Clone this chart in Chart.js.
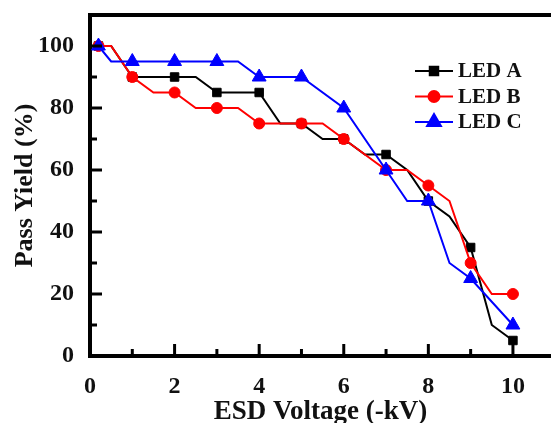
<!DOCTYPE html>
<html>
<head>
<meta charset="utf-8">
<script src="https://cdn.jsdelivr.net/npm/chart.js@4/dist/chart.umd.min.js"></script>
<style>
    html, body { margin: 0; padding: 0; background: #fff; }
    #wrap { width: 551px; height: 423px; position: relative; }
</style>
</head>
<body>
<div id="wrap"><canvas id="yieldChart"></canvas></div>
<script>
// Datos
const seriesNames = ['LED A', 'LED B', 'LED C'];

const xLedA = [0.2, 0.5, 1, 2, 2.5, 3, 4, 4.5, 5, 5.5, 6, 6.5, 7, 7.5, 8, 8.5, 9, 9.5, 10];
const yLedA = [100, 100, 90, 90, 90, 85, 85, 75, 75, 70, 70, 65, 65, 60, 50, 45, 35, 10, 5];

const xLedB = [0.2, 0.5, 1, 1.5, 2, 2.5, 3, 3.5, 4, 5, 5.5, 6, 7, 7.5, 8, 8.5, 9, 9.5, 10];
const yLedB = [100, 100, 90, 85, 85, 80, 80, 80, 75, 75, 75, 70, 60, 60, 55, 50, 30, 20, 20];

const xLedC = [0.2, 0.5, 1, 2, 3, 3.5, 4, 5, 6, 7, 7.5, 8, 8.5, 9, 10];
const yLedC = [100, 95, 95, 95, 95, 95, 90, 90, 80, 60, 50, 50, 30, 25, 10];

const xTicks = [0, 2, 4, 6, 8, 10];
const yTicks = [0, 20, 40, 60, 80, 100];

const fuente = "'Liberation Serif', 'Times New Roman', serif";

function puntos(xs, ys) {
    return xs.map((x, i) => ({ x: x, y: ys[i] }));
}

// solo se marcan el primer punto y los valores enteros
function radioMarcador(r) {
    return ctx => {
        const p = ctx.raw;
        if (!p) return 0;
        return (ctx.dataIndex === 0 || Number.isInteger(p.x)) ? r : 0;
    };
}

function serie(nombre, xs, ys, color, estilo, r, orden) {
    return {
        label: nombre,
        data: puntos(xs, ys),
        borderColor: color,
        backgroundColor: color,
        borderWidth: 2,
        tension: 0,
        fill: false,
        pointStyle: estilo,
        pointRadius: radioMarcador(r),
        pointHoverRadius: radioMarcador(r),
        pointBorderWidth: 1,
        order: orden
    };
}

// marco superior, marcas de escala hacia dentro y leyenda
const extras = {
    id: 'extras',
    afterDraw(chart) {
        const ctx = chart.ctx;
        const area = chart.chartArea;
        const sx = chart.scales.x;
        const sy = chart.scales.y;
        ctx.save();
        ctx.strokeStyle = '#000';
        ctx.lineWidth = 4;
        ctx.beginPath();
        ctx.moveTo(area.left - 2, area.top);
        ctx.lineTo(area.right, area.top);
        ctx.stroke();

        ctx.lineWidth = 3;
        for (let v = 1; v <= 10; v++) {
            const px = sx.getPixelForValue(v);
            const largo = v % 2 === 0 ? 12 : 7;
            ctx.beginPath();
            ctx.moveTo(px, area.bottom);
            ctx.lineTo(px, area.bottom - largo);
            ctx.stroke();
        }
        for (let v = 10; v <= 100; v += 10) {
            const py = sy.getPixelForValue(v);
            const largo = v % 20 === 0 ? 12 : 7;
            ctx.beginPath();
            ctx.moveTo(area.left, py);
            ctx.lineTo(area.left + largo, py);
            ctx.stroke();
        }

        // leyenda
        const x0 = area.right - 136;
        let y0 = area.top + 56;
        ctx.font = "bold 21px " + fuente;
        ctx.textBaseline = 'middle';
        ctx.textAlign = 'left';
        chart.data.datasets.forEach(ds => {
            ctx.strokeStyle = ds.borderColor;
            ctx.lineWidth = 2;
            ctx.beginPath();
            ctx.moveTo(x0, y0);
            ctx.lineTo(x0 + 38, y0);
            ctx.stroke();
            ctx.fillStyle = ds.backgroundColor;
            const r = ds.pointStyle === 'rect' ? 6 : (ds.pointStyle === 'triangle' ? 8 : 5.5);
            Chart.helpers.drawPoint(ctx, {
                pointStyle: ds.pointStyle, radius: r, rotation: 0, borderWidth: 1
            }, x0 + 19, y0);
            ctx.fillStyle = '#111';
            ctx.fillText(ds.label, x0 + 43, y0 + 1);
            y0 += 25.5;
        });
        ctx.restore();
    }
};

document.addEventListener("DOMContentLoaded", function () {
    const ctx = document.getElementById('yieldChart').getContext('2d');
    new Chart(ctx, {
        type: 'line',
        data: {
            datasets: [
                serie(seriesNames[0], xLedA, yLedA, '#000000', 'rect', 6, 3),
                serie(seriesNames[1], xLedB, yLedB, '#ff0000', 'circle', 5.5, 2),
                serie(seriesNames[2], xLedC, yLedC, '#0000ff', 'triangle', 8, 1)
            ]
        },
        options: {
            responsive: true,
            maintainAspectRatio: false,
            animation: false,
            layout: {
                autoPadding: false,
                padding: { top: 15, right: 0, left: 0, bottom: 0 }
            },
            plugins: {
                legend: { display: false },
                tooltip: { enabled: false }
            },
            scales: {
                x: {
                    type: 'linear',
                    min: 0,
                    max: 10.9,
                    afterFit: s => {
                        s.height = 67;
                        s.paddingLeft = 0;
                        s.paddingRight = 0;
                    },
                    afterBuildTicks: s => { s.ticks = xTicks.map(v => ({ value: v })); },
                    grid: { display: false },
                    border: { display: true, color: '#000', width: 4 },
                    ticks: {
                        color: '#111',
                        padding: 8,
                        maxRotation: 0,
                        font: { family: fuente, size: 24, weight: 'bold' }
                    },
                    title: {
                        display: true,
                        text: 'ESD Voltage (-kV)',
                        color: '#111',
                        padding: { top: 0, bottom: -5 },
                        font: { family: fuente, size: 27, weight: 'bold' }
                    }
                },
                y: {
                    type: 'linear',
                    min: 0,
                    max: 110,
                    afterFit: s => {
                        s.width = 90;
                        s.paddingTop = 0;
                        s.paddingBottom = 0;
                    },
                    afterBuildTicks: s => { s.ticks = yTicks.map(v => ({ value: v })); },
                    grid: { display: false },
                    border: { display: true, color: '#000', width: 4 },
                    ticks: {
                        color: '#111',
                        padding: 8,
                        font: { family: fuente, size: 24, weight: 'bold' }
                    },
                    title: {
                        display: true,
                        text: 'Pass Yield (%)',
                        color: '#111',
                        padding: { top: 10, bottom: 0 },
                        font: { family: fuente, size: 26, weight: 'bold' }
                    }
                }
            }
        },
        plugins: [extras]
    });
});
</script>
</body>
</html>
